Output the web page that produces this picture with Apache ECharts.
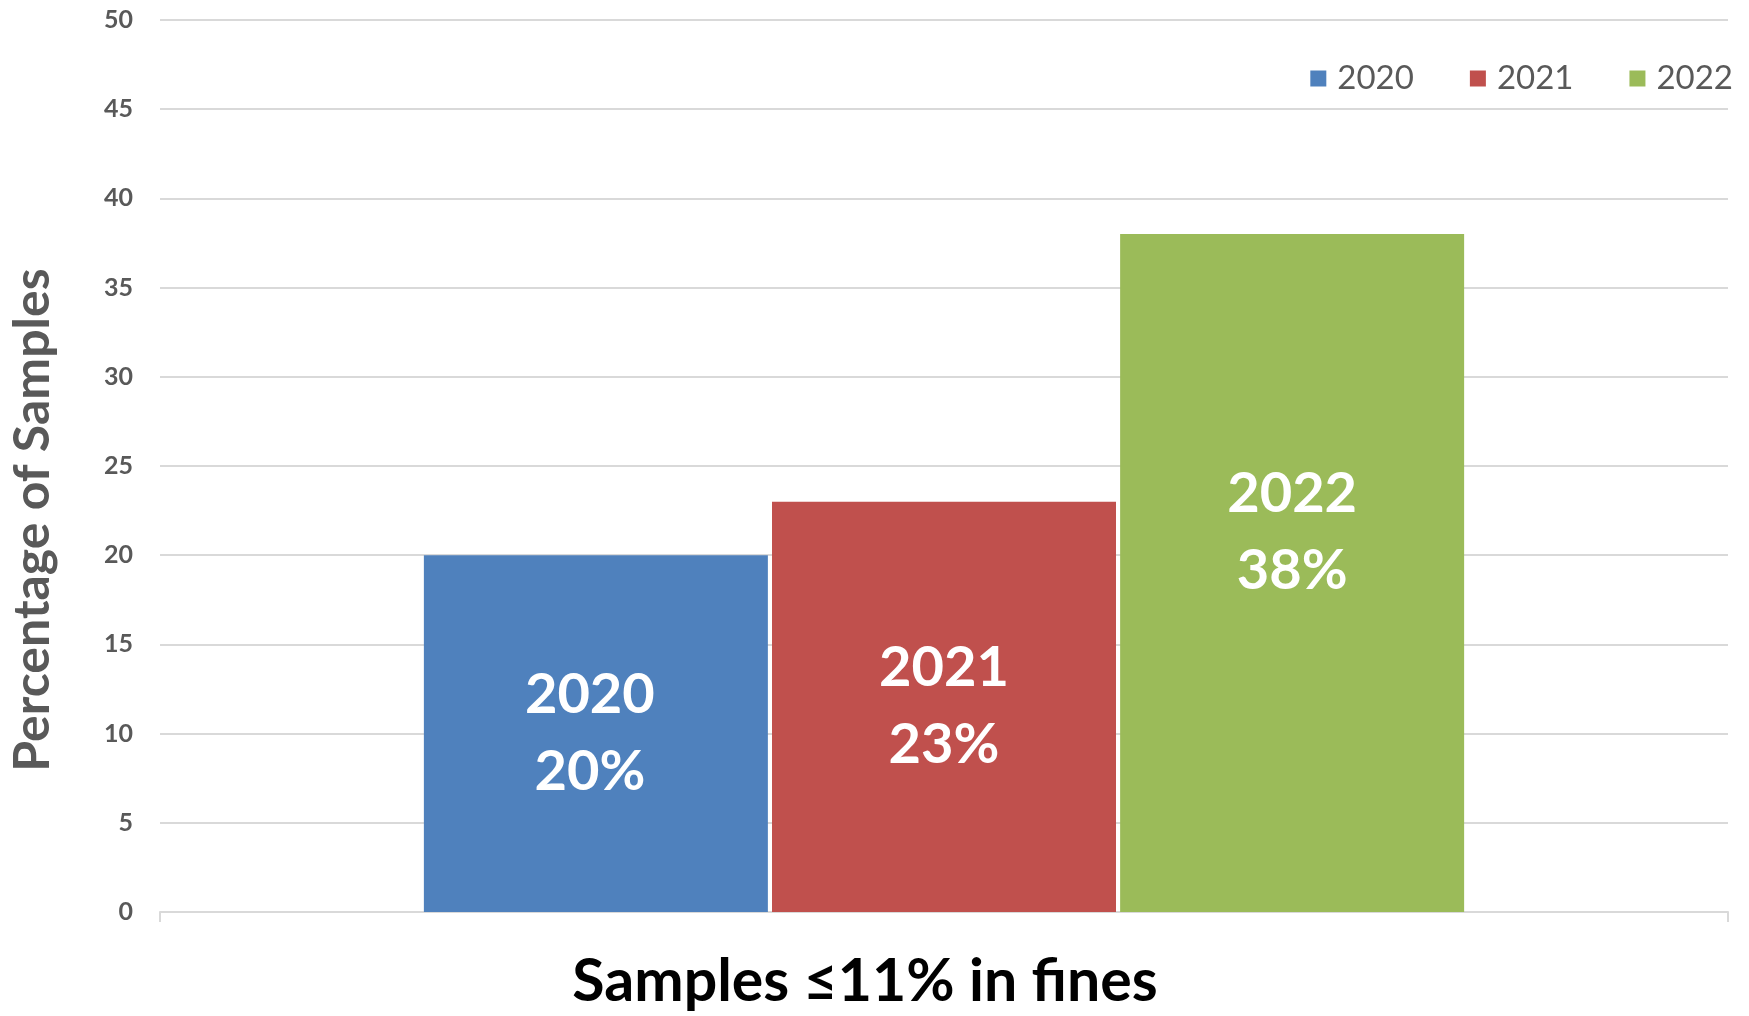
<!DOCTYPE html>
<html>
<head>
<meta charset="utf-8">
<script src="https://cdn.jsdelivr.net/npm/echarts@6/dist/echarts.min.js"></script>
<style>html,body{margin:0;padding:0;background:#fff}#c{width:1749px;height:1016px}</style>
</head>
<body>
<div id="c"></div>
<script>
const categories = ['Samples ≤11% in fines'];
const seriesNames = ['2020', '2021', '2022'];
const values2020 = [20];
const values2021 = [23];
const values2022 = [38];
const colors = ['#4F81BD', '#C0504D', '#9BBB59'];
const yTicks = {min: 0, max: 50, interval: 5};

const chart = echarts.init(document.getElementById('c'));
const seriesData = [values2020, values2021, values2022];
const labelOffsets = [[-6, 0], [0, 0], [0, -41]];
const font = 'Lato, "Open Sans", sans-serif';

chart.setOption({
  backgroundColor: '#ffffff',
  animation: false,
  legend: {
    right: 11, top: 57,
    icon: 'rect', itemWidth: 16, itemHeight: 16, itemGap: 56,
    textStyle: {fontFamily: font, fontSize: 33, color: '#595959', padding: [0, 0, 0, 6]},
    data: seriesNames
  },
  grid: {left: 159, right: 21, top: 20, bottom: 99},
  xAxis: {
    type: 'category',
    data: categories,
    axisLine: {lineStyle: {color: '#d9d9d9', width: 2}},
    axisTick: {show: true, length: 10, lineStyle: {color: '#d9d9d9', width: 2}},
    axisLabel: {show: false},
    name: categories[0],
    nameLocation: 'middle',
    nameGap: 40,
    nameTextStyle: {fontFamily: font, fontWeight: 'bold', fontSize: 59, color: '#000000', padding: [0, 158, 0, 0]}
  },
  yAxis: {
    type: 'value',
    min: yTicks.min, max: yTicks.max, interval: yTicks.interval,
    axisLine: {show: false},
    axisTick: {show: false},
    splitLine: {lineStyle: {color: '#d9d9d9', width: 2}},
    axisLabel: {fontFamily: font, fontWeight: 'bold', fontSize: 25, color: '#595959', margin: 27},
    name: 'Percentage of Samples',
    nameLocation: 'middle',
    nameGap: 102,
    nameTextStyle: {fontFamily: font, fontWeight: 'bold', fontSize: 50, color: '#595959', padding: [0, 108, 0, 0]}
  },
  series: seriesNames.map((n, i) => ({
    name: n,
    type: 'bar',
    data: seriesData[i],
    barWidth: 344,
    barGap: '1.2%',
    itemStyle: {color: colors[i]},
    label: {
      show: true,
      position: 'inside',
      offset: labelOffsets[i],
      formatter: p => p.seriesName + '\n' + p.value + '%',
      fontFamily: font, fontWeight: 'bold', fontSize: 56, lineHeight: 77, color: '#ffffff'
    }
  }))
});
</script>
</body>
</html>
